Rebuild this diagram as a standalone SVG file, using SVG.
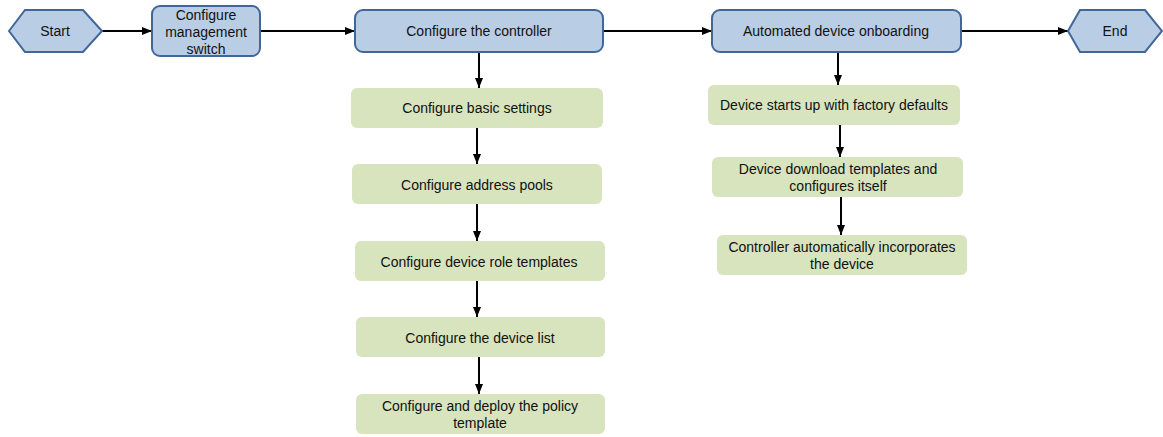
<svg xmlns="http://www.w3.org/2000/svg" width="1163" height="437" viewBox="0 0 1163 437">
  <style>
    .stage { fill: #B9CDE5; stroke: #41679A; stroke-width: 2; }
    .step { fill: #D7E4BD; stroke: none; }
    .lbl { font-family: "Liberation Sans", Arial, sans-serif; font-size: 14px; fill: #111; text-anchor: middle; }
    .conn { stroke: #000; stroke-width: 2; fill: none; marker-end: url(#arrow); }
  </style>
  <defs>
    <marker id="arrow" markerUnits="userSpaceOnUse" markerWidth="10" markerHeight="10" viewBox="0 0 10 10" refX="10" refY="5" orient="auto">
      <path d="M0,1 L10,5 L0,9 Z" fill="#000"/>
    </marker>
  </defs>

  <rect width="1163" height="437" fill="#fff"/>

  <!-- connectors -->
  <g id="connectors">
    <line class="conn" x1="102" y1="31" x2="152" y2="31"/>
    <line class="conn" x1="260" y1="31" x2="355" y2="31"/>
    <line class="conn" x1="603" y1="31" x2="712" y2="31"/>
    <line class="conn" x1="961" y1="31" x2="1068" y2="31"/>
    <!-- controller branch -->
    <line class="conn" x1="479" y1="52" x2="479" y2="88"/>
    <line class="conn" x1="477" y1="128" x2="477" y2="164"/>
    <line class="conn" x1="477" y1="204" x2="477" y2="241"/>
    <line class="conn" x1="477" y1="281" x2="477" y2="317"/>
    <line class="conn" x1="479" y1="357" x2="479" y2="394"/>
    <!-- onboarding branch -->
    <line class="conn" x1="838" y1="52" x2="838" y2="85"/>
    <line class="conn" x1="840" y1="125" x2="840" y2="157"/>
    <line class="conn" x1="841" y1="197" x2="841" y2="235"/>
  </g>

  <!-- main flow -->
  <g id="start">
    <polygon class="stage" points="9,31 25,10 83,10 102,31 83,52 25,52"/>
    <text class="lbl" x="55" y="36">Start</text>
  </g>
  <g id="mgmt-switch">
    <rect class="stage" x="152" y="6" width="108" height="50" rx="8"/>
    <text class="lbl" x="206" y="20">Configure</text>
    <text class="lbl" x="206" y="37">management</text>
    <text class="lbl" x="206" y="54">switch</text>
  </g>
  <g id="controller">
    <rect class="stage" x="355" y="10" width="248" height="42" rx="8"/>
    <text class="lbl" x="479" y="36">Configure the controller</text>
  </g>
  <g id="onboarding">
    <rect class="stage" x="712" y="10" width="249" height="42" rx="8"/>
    <text class="lbl" x="836" y="36">Automated device onboarding</text>
  </g>
  <g id="end">
    <polygon class="stage" points="1068,31 1080,10 1145,10 1162,31 1145,52 1080,52"/>
    <text class="lbl" x="1115" y="36">End</text>
  </g>

  <!-- controller steps -->
  <g id="basic-settings">
    <rect class="step" x="351" y="88" width="252" height="40" rx="6"/>
    <text class="lbl" x="477" y="113">Configure basic settings</text>
  </g>
  <g id="address-pools">
    <rect class="step" x="352" y="164" width="250" height="40" rx="6"/>
    <text class="lbl" x="477" y="190">Configure address pools</text>
  </g>
  <g id="role-templates">
    <rect class="step" x="355" y="241" width="250" height="40" rx="6"/>
    <text class="lbl" x="479" y="267">Configure device role templates</text>
  </g>
  <g id="device-list">
    <rect class="step" x="356" y="317" width="249" height="40" rx="6"/>
    <text class="lbl" x="480" y="343">Configure the device list</text>
  </g>
  <g id="policy-template">
    <rect class="step" x="356" y="394" width="249" height="40" rx="6"/>
    <text class="lbl" x="480" y="411">Configure and deploy the policy</text>
    <text class="lbl" x="480" y="428">template</text>
  </g>

  <!-- onboarding steps -->
  <g id="factory-defaults">
    <rect class="step" x="708" y="85" width="252" height="40" rx="6"/>
    <text class="lbl" x="834" y="110">Device starts up with factory defaults</text>
  </g>
  <g id="download-templates">
    <rect class="step" x="712" y="157" width="251" height="40" rx="6"/>
    <text class="lbl" x="838" y="174">Device download templates and</text>
    <text class="lbl" x="838" y="191">configures itself</text>
  </g>
  <g id="incorporate">
    <rect class="step" x="717" y="235" width="250" height="40" rx="6"/>
    <text class="lbl" x="842" y="252">Controller automatically incorporates</text>
    <text class="lbl" x="842" y="269">the device</text>
  </g>
</svg>
